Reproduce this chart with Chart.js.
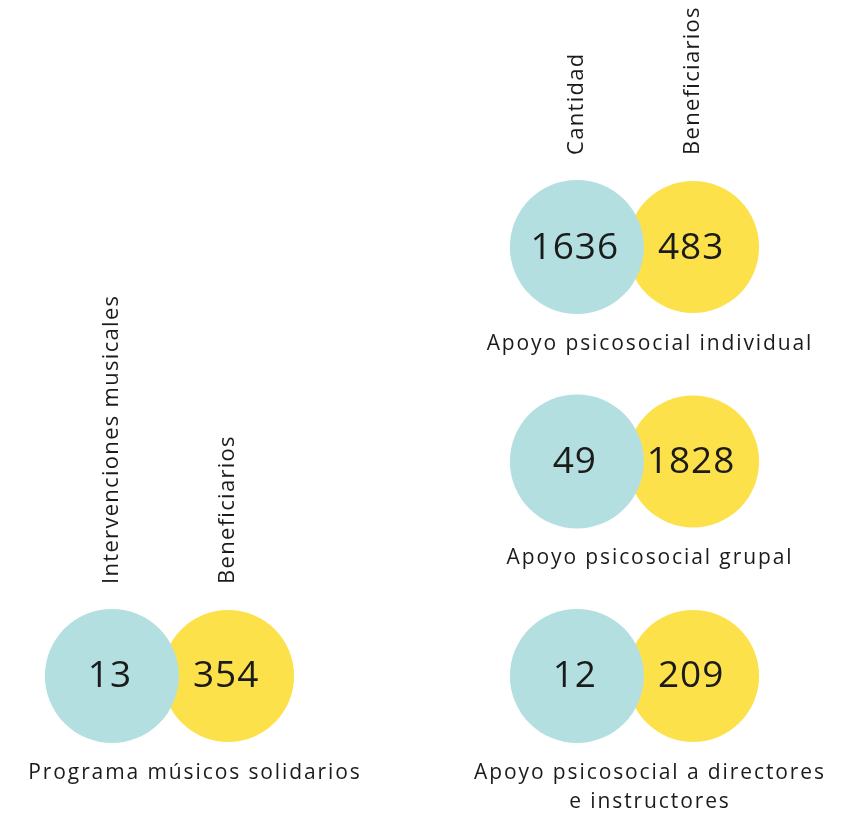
<!DOCTYPE html>
<html>
<head>
<meta charset="utf-8">
<script src="https://cdn.jsdelivr.net/npm/chart.js@4/dist/chart.umd.min.js"></script>
<style>
  body{margin:0;background:#fff}
  #wrap{width:866px;height:813px}
</style>
</head>
<body>
<div id="wrap"><canvas id="myChart" width="866" height="813"></canvas></div>
<script>
// data
const groups = ['Programa músicos solidarios', 'Apoyo psicosocial individual', 'Apoyo psicosocial grupal', ['Apoyo psicosocial a directores', 'e instructores']]
const cantidad = [13, 1636, 49, 12]
const beneficiarios = [354, 483, 1828, 209]
const seriesLeft = ['Intervenciones musicales', 'Beneficiarios']
const seriesRight = ['Cantidad', 'Beneficiarios']

// layout: which column / row each group sits in
const groupCol = [0, 1, 1, 1]
const groupRow = [2, 0, 1, 2]
const headed = [0, 1]   // groups that carry the rotated series names
const off = 0.125
const labelShift = [25, 15]  // px, per column

const ink = '#1b1b1b'
const font = '"Open Sans", "Noto Sans", sans-serif'

const pts = (vals, d) => vals.map((v, i) => ({x: groupCol[i] + d, y: groupRow[i], v: v}))

const labelsPlugin = {
  id: 'labels',
  afterDatasetsDraw(chart) {
    const ctx = chart.ctx
    const xs = chart.scales.x, ys = chart.scales.y
    ctx.save()
    ctx.fillStyle = ink
    ctx.textAlign = 'center'
    ctx.textBaseline = 'middle'
    ctx.font = '37px ' + font
    ctx.letterSpacing = '1px'
    chart.data.datasets.forEach((ds, di) => {
      chart.getDatasetMeta(di).data.forEach((el, i) => {
        ctx.fillText(ds.data[i].v, el.x - 2, el.y + 1)
      })
    })
    ctx.font = '21px ' + font
    ctx.letterSpacing = '1.9px'
    groups.forEach((g, i) => {
      const cx = xs.getPixelForValue(groupCol[i]) + labelShift[groupCol[i]]
      const cy = ys.getPixelForValue(groupRow[i])
      const lines = Array.isArray(g) ? g : [g]
      lines.forEach((t, k) => ctx.fillText(t, cx, cy + 97 + k * 29))
    })
    ctx.font = '22px ' + font
    ctx.letterSpacing = '1.3px'
    headed.forEach(i => {
      const names = groupCol[i] === 0 ? seriesLeft : seriesRight
      const cy = ys.getPixelForValue(groupRow[i])
      names.forEach((n, di) => {
        const el = chart.getDatasetMeta(di).data[i]
        ctx.save()
        ctx.translate(el.x, cy - 92)
        ctx.rotate(-Math.PI / 2)
        ctx.textAlign = 'left'
        ctx.fillText(n, 0, 0)
        ctx.restore()
      })
    })
    ctx.restore()
  }
}

const ctx = document.getElementById('myChart').getContext('2d')
const myChart = new Chart(ctx, {
  type: 'bubble',
  data: {
    datasets: [
      {label: 'Cantidad', data: pts(cantidad, -off), backgroundColor: '#b4dfe1', borderWidth: 0, radius: 67},
      {label: 'Beneficiarios', data: pts(beneficiarios, off), backgroundColor: '#fde14b', borderWidth: 0, radius: 66}
    ]
  },
  options: {
    responsive: false,
    animation: false,
    events: [],
    layout: {padding: 0, autoPadding: false},
    plugins: {legend: {display: false}, tooltip: {enabled: false}},
    scales: {
      x: {type: 'linear', display: false, min: -0.3656, max: 1.4968},
      y: {type: 'linear', display: false, reverse: true, min: -1.1515, max: 2.639}
    }
  },
  plugins: [labelsPlugin]
})
</script>
</body>
</html>
